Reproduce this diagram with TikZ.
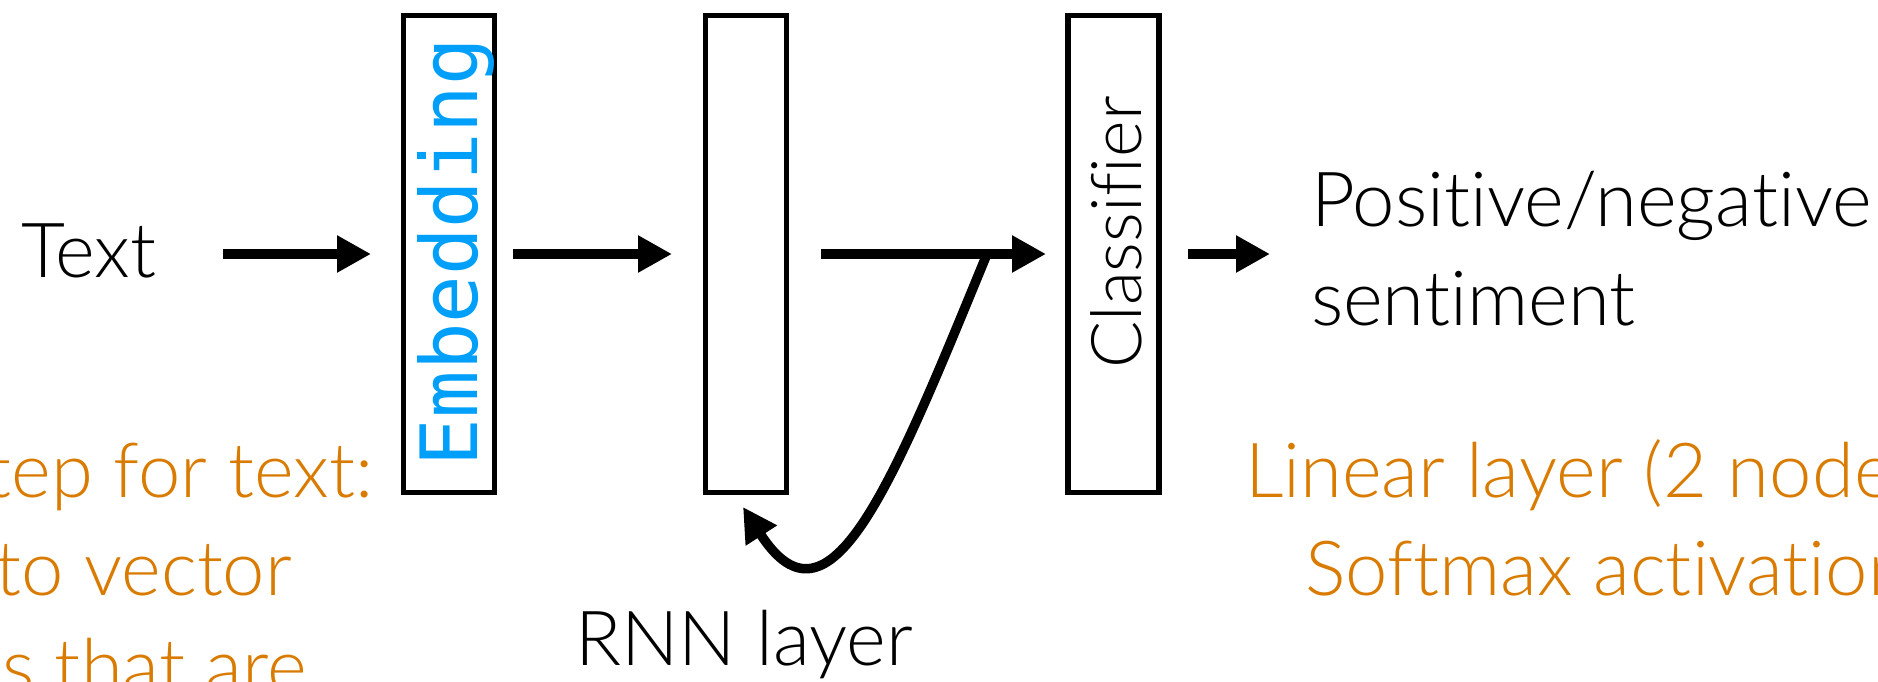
\documentclass[tikz,border=0pt]{standalone}
\usepackage{fontspec}
\IfFontExistsTF{Lato Light}{\setmainfont{Lato Light}[Ligatures=NoCommon]}{\setmainfont{Lato}[Ligatures=NoCommon]}
\newfontfamily\monofam{DejaVu Sans Mono}
\usetikzlibrary{arrows.meta}
\definecolor{embcyan}{RGB}{0,160,250}
\definecolor{noteorange}{RGB}{217,123,0}
\begin{document}
\begin{tikzpicture}[x=1pt,y=-1pt,
  lbl/.style={font=\fontsize{76}{92}\selectfont, inner sep=0, outer sep=0},
  note/.style={lbl, text=noteorange},
  layerbox/.style={draw, line width=5.3pt, inner sep=0, outer sep=0, minimum height=477pt},
  conn/.style={line width=9.5pt, -{Triangle[length=34pt,width=35pt]}},
]
\useasboundingbox (0,0) rectangle (1878,682);
% layer boxes
\node[layerbox, minimum width=91pt] (emb) at (449,254) {};
\node[layerbox, minimum width=81pt] (rnn) at (746,254) {};
\node[layerbox, minimum width=91pt] (cls) at (1113.5,254) {};
% labels
\node[rotate=90, anchor=base, inner sep=0, font=\monofam\fontsize{79}{79}\selectfont, text=embcyan] (embl) at (477,252) {Embedding};
\node[lbl, font=\fontsize{70}{84}\selectfont, rotate=90, anchor=base] (clsl) at (1141,232.5) {Classifier};
\node[lbl, anchor=base west] (txt) at (21,277) {Text};
\node[lbl, anchor=base west] (out1) at (1311,226) {Positive/negative};
\node[lbl, anchor=base west] (out2) at (1311,325) {sentiment};
\node[lbl, anchor=base west] (rnnl) at (575,665) {RNN layer};
% notes
\node[note, anchor=base east] (n1) at (373,497) {step for text:};
\node[note, anchor=base east] (n2) at (292,595) {to vector};
\node[note, anchor=base east] (n3) at (307,693) {s that are};
\node[note, anchor=base west] (n4) at (1245,497) {Linear layer (2 nodes)};
\node[note, anchor=base west] (n5) at (1305,595) {Softmax activation};
% connector end points
\coordinate (a1s) at (223,254); \coordinate (a1e) at (371,254);
\coordinate (a2s) at (513,254); \coordinate (a2e) at (672,254);
\coordinate (a3s) at (821,254); \coordinate (a3e) at (1046,254);
\coordinate (a4s) at (1188,254); \coordinate (a4e) at (1270,254);
\coordinate (rs) at (987,254); \coordinate (rtip) at (743,507);
\draw[conn] (a1s) -- (a1e);
\draw[conn] (a2s) -- (a2e);
\draw[conn] (a3s) -- (a3e);
\draw[conn] (a4s) -- (a4e);
\draw[conn] (rs) .. controls (892,485) and (830,642) .. (rtip);
\end{tikzpicture}
\end{document}
